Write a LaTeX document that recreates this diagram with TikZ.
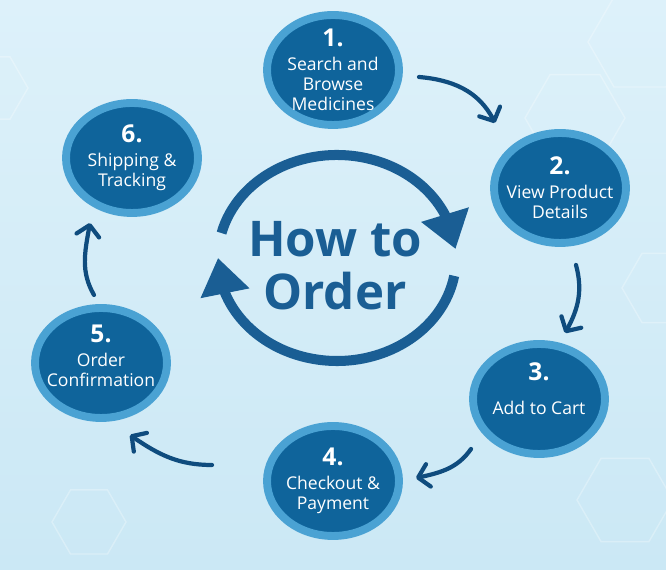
\documentclass[tikz,border=0pt]{standalone}
\usepackage{fontspec}
\setmainfont{Open Sans}
\usetikzlibrary{shapes.geometric,arrows.meta,bending}

\definecolor{bgtop}{HTML}{DDF1FA}
\definecolor{bgbot}{HTML}{CBE8F5}
\definecolor{ringblue}{HTML}{4AA2D3}
\definecolor{stepblue}{HTML}{0F649B}
\definecolor{cycleblue}{HTML}{1A5E94}
\definecolor{arrowblue}{HTML}{0F4C7E}

\newcommand{\stepnum}[1]{{\fontsize{14}{14}\selectfont\bfseries #1}}

\begin{document}
\begin{tikzpicture}[x=0.02cm,y=0.02cm,
    stepcircle/.style={ellipse,draw=ringblue,fill=stepblue,line width=4.5pt,
      minimum width=2.64cm,minimum height=2.2cm,inner sep=0pt},
    steptext/.style={text=white,align=center,inner sep=0pt,
      font=\fontsize{10}{11.5}\selectfont},
    steparrow/.style={draw=arrowblue,line width=2.4pt,line cap=round,
      -{Straight Barb[length=6pt,width=13pt,round]}},
    cyclearc/.style={draw=cycleblue,line width=5.7pt,
      -{Triangle[length=0.72cm,width=0.95cm]}},
    hexline/.style={draw=white,opacity=0.28,line width=0.8pt}]

    \useasboundingbox (0,0) rectangle (666,570);
    \shade [top color=bgtop,bottom color=bgbot] (0,0) rectangle (666,570);

    % faint hexagons
    \foreach \hx/\hy/\hr in {575/452/50, 640/528/52, 662/282/40, 625/70/48, 89/48/37, -8/482/36}
      \draw [hexline] (\hx,\hy) +(0:\hr) -- +(60:\hr) -- +(120:\hr) -- +(180:\hr)
        -- +(240:\hr) -- +(300:\hr) -- cycle;

    % centre cycle
    \coordinate (hub) at (337,312);
    \draw [cyclearc] (hub) ++(166:119 and 103)
      arc [start angle=166,end angle=5,x radius=119,y radius=103];
    \draw [cyclearc] (hub) ++(-10:119 and 103)
      arc [start angle=-10,end angle=-180,x radius=119,y radius=103];
    \node [font=\fontsize{28}{30}\selectfont\bfseries,text=cycleblue,align=center]
      (title) at (335,304) {How to\\Order};

    % steps
    \node [stepcircle] (s1) at (333,500) {};
    \node [steptext] (t1) at (s1) {\stepnum{1.}\\[2pt] Search and\\ Browse\\ Medicines};

    \node [stepcircle] (s2) at (560,382) {};
    \node [steptext] (t2) at (s2) {\stepnum{2.}\\[2pt] View Product\\ Details};

    \node [stepcircle] (s3) at (539,171) {};
    \node [steptext] (t3) at ([yshift=6]s3.center) {\stepnum{3.}\\[8pt] Add to Cart};

    \node [stepcircle] (s4) at (333,89) {};
    \node [steptext] (t4) at (s4) {\stepnum{4.}\\[2pt] Checkout \&\\ Payment};

    \node [stepcircle] (s5) at (101,207) {};
    \node [steptext] (t5) at ([yshift=4]s5.center) {\stepnum{5.}\\[2pt] Order\\ Confirmation};

    \node [stepcircle] (s6) at (132,412) {};
    \node [steptext] (t6) at (s6) {\stepnum{6.}\\[2pt] Shipping \&\\ Tracking};

    % arrows between steps
    \draw [steparrow] ([shift={(86,-7)}]s1.center) to [out=-5,in=115] ([shift={(-65,65)}]s2.center);
    \draw [steparrow] ([shift={(16,-77)}]s2.center) to [out=-75,in=60] ([shift={(26,66)}]s3.center);
    \draw [steparrow] ([shift={(-68,-50)}]s3.center) to [out=-125,in=12] ([shift={(83,3)}]s4.center);
    \draw [steparrow] ([shift={(-121,16)}]s4.center) to [out=180,in=-35] ([shift={(29,-72)}]s5.center);
    \draw [steparrow] ([shift={(-7,68)}]s5.center) to [out=120,in=-100] ([shift={(-42,-65)}]s6.center);
  \end{tikzpicture}
\end{document}
